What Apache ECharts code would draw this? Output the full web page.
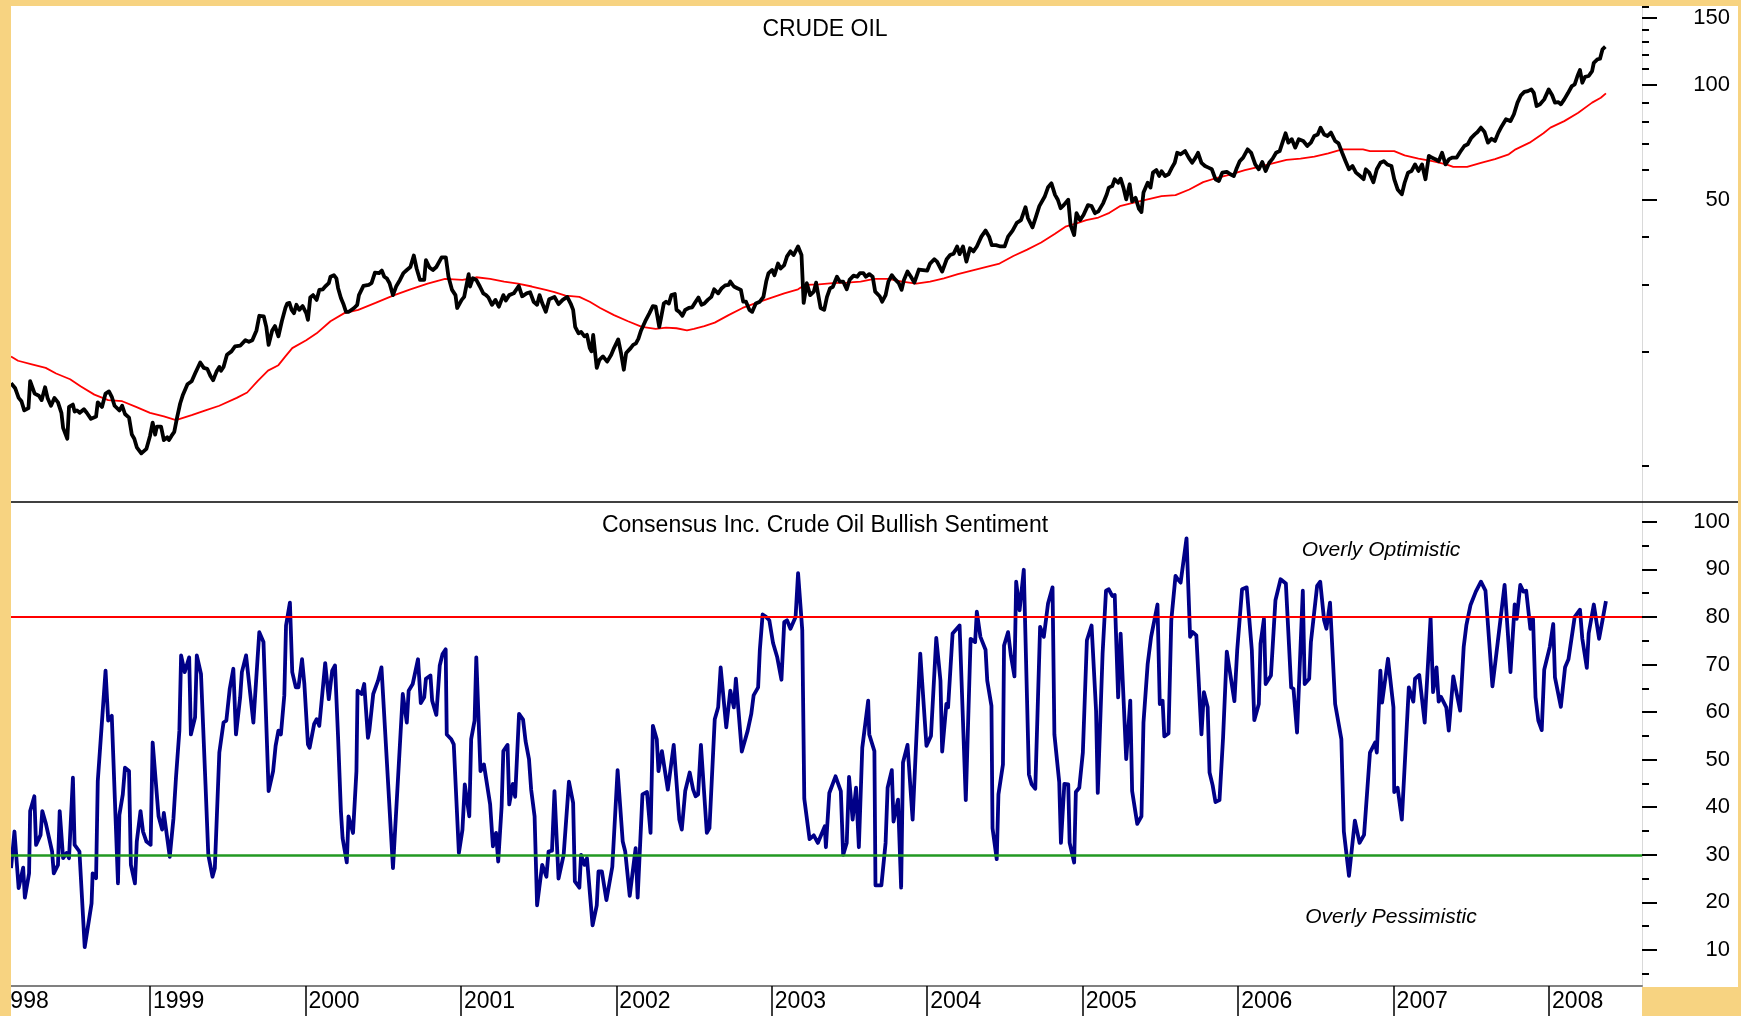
<!DOCTYPE html>
<html>
<head>
<meta charset="utf-8">
<title>Crude Oil vs Consensus Bullish Sentiment</title>
<script src="https://cdn.jsdelivr.net/npm/echarts@6/dist/echarts.min.js"></script>
<style>
  html, body { margin: 0; padding: 0; width: 1741px; height: 1016px; overflow: hidden; background: #F7D381; position: relative; }
  /* chart starts a little left of the window so that 1 Jan 1998 falls under the left border */
  #chart { position: absolute; left: -16px; top: 6px; width: 1754px; height: 1010px; background: #fff; }
  .border { position: absolute; background: #F7D381; z-index: 5; }
  #border-left { left: 0; top: 0; width: 11px; height: 1016px; }
  #border-corner { left: 1642px; top: 987px; width: 99px; height: 29px; }
</style>
</head>
<body>
<div id="chart"></div>
<div class="border" id="border-left"></div>
<div class="border" id="border-corner"></div>
<script>
// ---- data (dates as decimal years) ----
const yearTicks = [1998, 1999, 2000, 2001, 2002, 2003, 2004, 2005, 2006, 2007, 2008];
const priceMajorTicks = [50, 100, 150];
const priceMinorTicks = [10, 20, 30, 40, 60, 70, 80, 90, 110, 120, 130, 140, 160];
const sentMajorTicks = [10, 20, 30, 40, 50, 60, 70, 80, 90, 100];
const sentMinorTicks = [5, 15, 25, 35, 45, 55, 65, 75, 85, 95];
const optimisticLevel = 80;
const pessimisticLevel = 30;

// weekly crude oil price
const priceYears = [
  1998.106, 1998.133, 1998.155, 1998.173, 1998.191, 1998.218, 1998.229, 1998.258, 1998.285, 1998.303,
  1998.325, 1998.341, 1998.363, 1998.385, 1998.408, 1998.430, 1998.441, 1998.468, 1998.479, 1998.504,
  1998.515, 1998.530, 1998.548, 1998.575, 1998.593, 1998.620, 1998.653, 1998.664, 1998.691, 1998.714,
  1998.736, 1998.754, 1998.772, 1998.803, 1998.821, 1998.839, 1998.865, 1998.883, 1998.899, 1998.915,
  1998.944, 1998.977, 1999.000, 1999.017, 1999.033, 1999.044, 1999.071, 1999.089, 1999.111, 1999.122,
  1999.138, 1999.156, 1999.174, 1999.194, 1999.212, 1999.241, 1999.268, 1999.290, 1999.323, 1999.346,
  1999.368, 1999.390, 1999.406, 1999.428, 1999.446, 1999.457, 1999.473, 1999.495, 1999.524, 1999.547,
  1999.580, 1999.614, 1999.636, 1999.658, 1999.685, 1999.703, 1999.732, 1999.748, 1999.763, 1999.786,
  1999.804, 1999.826, 1999.848, 1999.871, 1999.882, 1999.897, 1999.911, 1999.926, 1999.942, 1999.960,
  1999.982, 2000.005, 2000.016, 2000.031, 2000.049, 2000.072, 2000.089, 2000.112, 2000.127, 2000.150,
  2000.161, 2000.183, 2000.199, 2000.210, 2000.228, 2000.246, 2000.261, 2000.279, 2000.313, 2000.333,
  2000.344, 2000.373, 2000.407, 2000.425, 2000.447, 2000.474, 2000.491, 2000.507, 2000.523, 2000.541,
  2000.563, 2000.585, 2000.608, 2000.630, 2000.652, 2000.675, 2000.697, 2000.715, 2000.737, 2000.764,
  2000.775, 2000.798, 2000.820, 2000.842, 2000.876, 2000.903, 2000.920, 2000.943, 2000.965, 2000.976,
  2001.005, 2001.021, 2001.050, 2001.059, 2001.077, 2001.099, 2001.122, 2001.144, 2001.162, 2001.177,
  2001.200, 2001.222, 2001.244, 2001.273, 2001.289, 2001.311, 2001.340, 2001.372, 2001.394, 2001.423,
  2001.445, 2001.468, 2001.490, 2001.506, 2001.524, 2001.546, 2001.568, 2001.602, 2001.628, 2001.655,
  2001.684, 2001.706, 2001.722, 2001.735, 2001.757, 2001.773, 2001.795, 2001.811, 2001.829, 2001.840,
  2001.851, 2001.874, 2001.891, 2001.914, 2001.941, 2001.967, 2001.985, 2002.012, 2002.030, 2002.048,
  2002.063, 2002.092, 2002.108, 2002.126, 2002.142, 2002.159, 2002.186, 2002.213, 2002.235, 2002.253,
  2002.276, 2002.287, 2002.305, 2002.320, 2002.338, 2002.354, 2002.376, 2002.387, 2002.405, 2002.425,
  2002.443, 2002.466, 2002.488, 2002.510, 2002.528, 2002.548, 2002.566, 2002.588, 2002.611, 2002.629,
  2002.655, 2002.678, 2002.700, 2002.722, 2002.733, 2002.756, 2002.778, 2002.801, 2002.816, 2002.834,
  2002.856, 2002.874, 2002.897, 2002.923, 2002.946, 2002.964, 2002.979, 2003.002, 2003.017, 2003.040,
  2003.057, 2003.080, 2003.098, 2003.120, 2003.140, 2003.169, 2003.191, 2003.205, 2003.225, 2003.247,
  2003.270, 2003.285, 2003.314, 2003.337, 2003.355, 2003.375, 2003.392, 2003.419, 2003.437, 2003.459,
  2003.482, 2003.500, 2003.526, 2003.549, 2003.567, 2003.589, 2003.605, 2003.627, 2003.649, 2003.665,
  2003.694, 2003.710, 2003.732, 2003.750, 2003.772, 2003.790, 2003.817, 2003.835, 2003.850, 2003.873,
  2003.895, 2003.917, 2003.946, 2003.973, 2004.000, 2004.018, 2004.045, 2004.063, 2004.096, 2004.125,
  2004.147, 2004.170, 2004.192, 2004.208, 2004.230, 2004.252, 2004.275, 2004.297, 2004.319, 2004.348,
  2004.375, 2004.398, 2004.415, 2004.442, 2004.471, 2004.498, 2004.520, 2004.549, 2004.576, 2004.603,
  2004.632, 2004.648, 2004.677, 2004.699, 2004.721, 2004.755, 2004.777, 2004.799, 2004.822, 2004.840,
  2004.858, 2004.878, 2004.907, 2004.922, 2004.945, 2004.960, 2004.983, 2005.005, 2005.034, 2005.057,
  2005.079, 2005.101, 2005.132, 2005.155, 2005.168, 2005.190, 2005.206, 2005.228, 2005.244, 2005.262,
  2005.280, 2005.302, 2005.318, 2005.340, 2005.362, 2005.378, 2005.391, 2005.418, 2005.436, 2005.452,
  2005.474, 2005.492, 2005.507, 2005.530, 2005.552, 2005.574, 2005.592, 2005.608, 2005.630, 2005.659,
  2005.682, 2005.704, 2005.726, 2005.742, 2005.764, 2005.787, 2005.809, 2005.831, 2005.854, 2005.876,
  2005.898, 2005.927, 2005.950, 2005.972, 2005.988, 2006.010, 2006.032, 2006.061, 2006.084, 2006.110,
  2006.133, 2006.155, 2006.177, 2006.200, 2006.222, 2006.244, 2006.267, 2006.285, 2006.305, 2006.323,
  2006.345, 2006.367, 2006.390, 2006.419, 2006.445, 2006.468, 2006.490, 2006.512, 2006.530, 2006.553,
  2006.575, 2006.597, 2006.624, 2006.646, 2006.669, 2006.691, 2006.713, 2006.736, 2006.758, 2006.785,
  2006.807, 2006.821, 2006.843, 2006.870, 2006.892, 2006.915, 2006.937, 2006.959, 2006.986, 2007.004,
  2007.026, 2007.053, 2007.071, 2007.093, 2007.116, 2007.138, 2007.160, 2007.183, 2007.205, 2007.227,
  2007.245, 2007.268, 2007.290, 2007.312, 2007.334, 2007.357, 2007.379, 2007.406, 2007.428, 2007.455,
  2007.477, 2007.500, 2007.522, 2007.540, 2007.562, 2007.585, 2007.607, 2007.630, 2007.652, 2007.674,
  2007.696, 2007.723, 2007.752, 2007.774, 2007.797, 2007.819, 2007.841, 2007.864, 2007.886, 2007.902,
  2007.920, 2007.942, 2007.969, 2007.998, 2008.020, 2008.038, 2008.060, 2008.076, 2008.098, 2008.121,
  2008.147, 2008.165, 2008.183, 2008.199, 2008.214, 2008.232, 2008.255, 2008.277, 2008.288, 2008.311,
  2008.328, 2008.344, 2008.362
];
const priceValues = [
  16.5, 16.0, 15.1, 14.8, 14.0, 14.2, 16.7, 15.5, 15.3, 14.9,
  16.1, 15.1, 14.4, 15.1, 14.7, 13.8, 12.6, 11.8, 14.3, 14.5,
  13.9, 14.0, 13.8, 14.1, 13.8, 13.3, 13.5, 14.7, 14.3, 15.5,
  15.7, 15.2, 14.4, 14.0, 14.4, 13.7, 13.4, 12.1, 11.8, 11.2,
  10.8, 11.1, 12.0, 13.0, 12.1, 12.7, 12.7, 11.7, 11.9, 11.7,
  12.0, 12.3, 13.4, 14.6, 15.4, 16.4, 16.7, 17.5, 18.7, 18.1,
  18.0, 17.2, 16.8, 17.7, 18.2, 17.8, 18.2, 19.6, 20.0, 20.6,
  20.7, 21.4, 21.2, 21.4, 22.7, 24.8, 24.7, 23.2, 20.8, 22.7,
  23.3, 21.9, 24.0, 26.0, 26.7, 26.8, 25.7, 25.2, 26.5, 25.7,
  26.3, 25.2, 24.2, 27.7, 28.1, 27.3, 29.0, 29.1, 29.6, 30.2,
  31.4, 31.7, 31.1, 29.3, 27.6, 26.5, 25.4, 25.4, 26.0, 26.5,
  28.1, 29.7, 29.9, 30.2, 32.2, 32.1, 32.6, 31.4, 31.1, 30.2,
  28.1, 29.7, 30.8, 32.1, 32.7, 33.3, 35.7, 33.0, 30.8, 30.8,
  34.7, 33.2, 32.7, 33.3, 35.3, 35.3, 31.4, 29.0, 28.1, 26.0,
  27.3, 27.8, 31.9, 29.6, 31.1, 30.8, 29.6, 28.4, 28.1, 27.7,
  26.5, 27.3, 26.2, 28.1, 27.2, 28.1, 28.4, 29.7, 27.9, 28.4,
  28.6, 27.0, 26.5, 28.1, 26.7, 25.4, 27.4, 27.8, 26.6, 27.3,
  27.8, 26.7, 25.7, 23.2, 22.3, 22.5, 21.9, 22.1, 20.4, 20.0,
  22.1, 18.1, 19.0, 19.4, 18.8, 19.6, 20.4, 21.5, 19.8, 17.9,
  19.8, 20.4, 20.8, 21.0, 21.6, 22.7, 24.0, 25.2, 26.3, 26.2,
  23.2, 24.4, 26.7, 27.0, 26.7, 28.1, 28.3, 25.7, 25.4, 24.8,
  25.7, 26.0, 26.1, 27.0, 27.7, 26.5, 26.7, 27.3, 27.8, 29.1,
  28.4, 29.3, 29.8, 29.9, 30.5, 29.6, 29.3, 29.0, 27.0, 27.0,
  25.7, 25.4, 26.7, 27.0, 27.8, 30.5, 32.1, 32.7, 31.7, 34.0,
  33.0, 33.7, 35.5, 36.6, 35.8, 37.7, 35.8, 26.8, 30.2, 28.1,
  28.7, 30.3, 26.0, 25.7, 27.8, 29.3, 29.5, 31.4, 30.5, 30.5,
  29.1, 30.8, 31.6, 31.4, 32.1, 32.1, 31.4, 31.9, 31.4, 28.7,
  27.9, 27.0, 28.1, 30.5, 31.7, 31.0, 30.2, 29.0, 30.8, 32.4,
  31.4, 30.3, 32.8, 32.7, 32.6, 34.0, 34.9, 34.4, 32.4, 34.9,
  35.8, 36.1, 37.7, 36.0, 37.7, 34.4, 37.3, 36.6, 37.7, 40.0,
  41.5, 40.0, 38.0, 38.0, 37.7, 37.7, 40.0, 41.5, 43.5, 44.2,
  47.8, 44.7, 42.3, 45.1, 48.1, 50.9, 53.9, 55.2, 51.5, 50.0,
  47.5, 48.4, 50.0, 42.9, 40.4, 46.1, 44.2, 45.6, 48.4, 48.1,
  46.1, 46.6, 49.0, 51.7, 53.8, 54.3, 56.6, 55.4, 56.8, 53.8,
  50.1, 54.9, 49.5, 50.6, 47.3, 46.4, 52.2, 55.4, 53.8, 58.9,
  59.8, 57.7, 59.4, 57.7, 58.3, 60.7, 62.5, 66.4, 65.8, 67.1,
  64.5, 62.5, 64.5, 66.4, 62.5, 61.3, 60.7, 60.1, 56.6, 56.0,
  58.9, 59.2, 58.3, 57.7, 60.1, 63.1, 64.5, 67.8, 66.4, 61.9,
  60.1, 62.8, 59.5, 62.5, 64.1, 66.4, 67.1, 70.6, 74.7, 70.6,
  72.1, 68.5, 72.1, 71.3, 69.2, 70.6, 73.5, 74.2, 77.3, 74.2,
  73.5, 75.0, 71.3, 70.3, 66.4, 63.1, 60.1, 61.3, 58.9, 57.7,
  56.6, 60.1, 58.9, 55.6, 60.1, 62.5, 63.1, 61.9, 61.3, 56.6,
  53.2, 51.7, 55.4, 58.9, 59.5, 61.9, 59.5, 61.9, 56.6, 65.2,
  64.5, 63.9, 63.1, 66.4, 61.9, 63.9, 64.5, 64.5, 66.7, 69.2,
  69.9, 72.7, 74.2, 75.3, 77.3, 75.3, 70.6, 72.3, 71.3, 75.0,
  78.0, 81.3, 80.4, 83.8, 89.9, 94.0, 95.9, 96.4, 97.4, 95.4,
  88.1, 89.0, 91.7, 97.4, 94.0, 89.9, 90.2, 89.0, 91.7, 95.1,
  99.4, 100.4, 105.6, 109.5, 101.4, 105.1, 105.6, 108.8, 114.4, 116.8,
  117.2, 124.1, 126.1
];

// moving average of the price (red)
const maYears = [
  1998.106, 1998.151, 1998.240, 1998.329, 1998.396, 1998.486, 1998.553, 1998.642, 1998.731, 1998.821,
  1998.910, 1999.000, 1999.089, 1999.167, 1999.268, 1999.357, 1999.446, 1999.558, 1999.625, 1999.692,
  1999.759, 1999.826, 1999.871, 1999.915, 2000.005, 2000.072, 2000.161, 2000.250, 2000.340, 2000.451,
  2000.563, 2000.675, 2000.786, 2000.898, 2001.010, 2001.099, 2001.188, 2001.278, 2001.367, 2001.456,
  2001.546, 2001.602, 2001.673, 2001.762, 2001.829, 2001.896, 2001.985, 2002.075, 2002.164, 2002.253,
  2002.320, 2002.387, 2002.454, 2002.499, 2002.566, 2002.633, 2002.722, 2002.812, 2002.901, 2002.990,
  2003.080, 2003.169, 2003.214, 2003.303, 2003.392, 2003.482, 2003.571, 2003.660, 2003.750, 2003.839,
  2003.929, 2004.018, 2004.107, 2004.197, 2004.286, 2004.375, 2004.465, 2004.554, 2004.643, 2004.733,
  2004.822, 2004.889, 2004.956, 2005.023, 2005.101, 2005.172, 2005.239, 2005.329, 2005.418, 2005.507,
  2005.597, 2005.686, 2005.775, 2005.865, 2005.954, 2006.043, 2006.133, 2006.222, 2006.311, 2006.401,
  2006.490, 2006.580, 2006.669, 2006.803, 2006.848, 2007.004, 2007.071, 2007.160, 2007.250, 2007.339,
  2007.384, 2007.473, 2007.562, 2007.652, 2007.741, 2007.785, 2007.875, 2007.964, 2008.009, 2008.098,
  2008.188, 2008.277, 2008.333, 2008.366
];
const maValues = [
  19.4, 18.9, 18.5, 18.1, 17.5, 16.9, 16.2, 15.4, 14.9, 14.8,
  14.3, 13.8, 13.5, 13.2, 13.6, 14.0, 14.4, 15.1, 15.6, 16.7,
  17.8, 18.4, 19.4, 20.4, 21.4, 22.3, 24.0, 25.2, 25.7, 26.8,
  28.0, 29.1, 30.1, 31.0, 30.8, 31.3, 31.0, 30.5, 30.1, 29.6,
  29.0, 28.6, 28.0, 27.8, 27.0, 26.0, 24.9, 24.0, 23.2, 22.9,
  23.1, 23.0, 22.7, 22.9, 23.3, 23.8, 24.9, 26.0, 26.8, 27.6,
  28.4, 29.1, 29.9, 30.0, 30.2, 30.3, 30.5, 31.0, 31.0, 30.5,
  30.1, 30.5, 31.1, 31.9, 32.6, 33.3, 34.0, 35.6, 37.0, 38.6,
  40.7, 42.5, 43.3, 44.2, 44.9, 46.2, 48.1, 49.1, 50.1, 51.1,
  51.4, 53.2, 55.6, 57.1, 58.3, 59.8, 61.0, 62.3, 63.6, 64.1,
  64.9, 66.2, 67.8, 67.8, 67.1, 67.1, 65.4, 64.1, 63.1, 61.9,
  61.0, 61.0, 62.5, 63.9, 65.8, 67.8, 70.6, 74.7, 77.3, 80.4,
  84.6, 89.9, 92.6, 95.1
];

// Consensus Inc. bullish sentiment (%)
const sentYears = [
  1998.106, 1998.128, 1998.155, 1998.184, 1998.195, 1998.222, 1998.229, 1998.256, 1998.267, 1998.296,
  1998.307, 1998.329, 1998.370, 1998.381, 1998.408, 1998.419, 1998.441, 1998.463, 1998.479, 1998.504,
  1998.515, 1998.546, 1998.580, 1998.624, 1998.631, 1998.653, 1998.664, 1998.714, 1998.731, 1998.754,
  1998.794, 1998.803, 1998.825, 1998.839, 1998.865, 1998.877, 1998.903, 1998.915, 1998.939, 1998.955,
  1998.977, 1999.004, 1999.017, 1999.055, 1999.078, 1999.089, 1999.127, 1999.151, 1999.167, 1999.189,
  1999.200, 1999.223, 1999.252, 1999.263, 1999.290, 1999.301, 1999.328, 1999.357, 1999.375, 1999.402,
  1999.417, 1999.446, 1999.473, 1999.491, 1999.513, 1999.536, 1999.553, 1999.580, 1999.591, 1999.618,
  1999.665, 1999.703, 1999.730, 1999.763, 1999.792, 1999.808, 1999.826, 1999.842, 1999.864, 1999.875,
  1999.900, 1999.915, 1999.938, 1999.955, 1999.978, 1999.993, 2000.016, 2000.027, 2000.056, 2000.072,
  2000.089, 2000.127, 2000.150, 2000.172, 2000.190, 2000.210, 2000.228, 2000.239, 2000.266, 2000.277,
  2000.306, 2000.328, 2000.335, 2000.362, 2000.378, 2000.402, 2000.411, 2000.436, 2000.467, 2000.489,
  2000.563, 2000.626, 2000.652, 2000.664, 2000.690, 2000.724, 2000.742, 2000.764, 2000.775, 2000.804,
  2000.815, 2000.842, 2000.864, 2000.882, 2000.902, 2000.909, 2000.938, 2000.954, 2000.987, 2001.010,
  2001.025, 2001.054, 2001.066, 2001.088, 2001.099, 2001.126, 2001.148, 2001.188, 2001.206, 2001.226,
  2001.240, 2001.262, 2001.273, 2001.300, 2001.311, 2001.334, 2001.349, 2001.374, 2001.400, 2001.416,
  2001.438, 2001.452, 2001.474, 2001.490, 2001.523, 2001.550, 2001.564, 2001.586, 2001.602, 2001.628,
  2001.639, 2001.661, 2001.695, 2001.722, 2001.733, 2001.762, 2001.773, 2001.795, 2001.811, 2001.847,
  2001.874, 2001.885, 2001.907, 2001.936, 2001.974, 2002.008, 2002.041, 2002.057, 2002.086, 2002.124,
  2002.137, 2002.168, 2002.197, 2002.220, 2002.235, 2002.260, 2002.271, 2002.293, 2002.331, 2002.369,
  2002.405, 2002.421, 2002.443, 2002.472, 2002.494, 2002.510, 2002.526, 2002.544, 2002.582, 2002.599,
  2002.633, 2002.655, 2002.671, 2002.707, 2002.733, 2002.756, 2002.769, 2002.807, 2002.845, 2002.868,
  2002.883, 2002.912, 2002.923, 2002.941, 2002.963, 2002.984, 2003.008, 2003.035, 2003.062, 2003.080,
  2003.098, 2003.120, 2003.153, 2003.169, 2003.196, 2003.209, 2003.243, 2003.270, 2003.296, 2003.341,
  2003.348, 2003.370, 2003.381, 2003.410, 2003.444, 2003.459, 2003.482, 2003.497, 2003.520, 2003.542,
  2003.560, 2003.582, 2003.620, 2003.627, 2003.660, 2003.667, 2003.705, 2003.732, 2003.745, 2003.772,
  2003.783, 2003.812, 2003.832, 2003.844, 2003.873, 2003.906, 2003.955, 2003.995, 2004.024, 2004.058,
  2004.085, 2004.096, 2004.123, 2004.134, 2004.163, 2004.208, 2004.248, 2004.279, 2004.308, 2004.319,
  2004.342, 2004.375, 2004.386, 2004.413, 2004.420, 2004.447, 2004.458, 2004.487, 2004.494, 2004.520,
  2004.538, 2004.561, 2004.572, 2004.594, 2004.621, 2004.654, 2004.672, 2004.695, 2004.726, 2004.750,
  2004.777, 2004.806, 2004.818, 2004.849, 2004.860, 2004.882, 2004.907, 2004.916, 2004.945, 2004.956,
  2004.978, 2005.001, 2005.027, 2005.057, 2005.086, 2005.097, 2005.128, 2005.150, 2005.168, 2005.190,
  2005.206, 2005.228, 2005.244, 2005.280, 2005.306, 2005.318, 2005.351, 2005.378, 2005.391, 2005.418,
  2005.440, 2005.452, 2005.481, 2005.496, 2005.514, 2005.525, 2005.552, 2005.570, 2005.597, 2005.612,
  2005.630, 2005.668, 2005.691, 2005.708, 2005.731, 2005.764, 2005.780, 2005.804, 2005.816, 2005.836,
  2005.854, 2005.880, 2005.903, 2005.927, 2005.976, 2005.994, 2006.025, 2006.055, 2006.088, 2006.104,
  2006.133, 2006.144, 2006.166, 2006.177, 2006.211, 2006.240, 2006.273, 2006.307, 2006.341, 2006.356,
  2006.379, 2006.416, 2006.428, 2006.457, 2006.468, 2006.508, 2006.528, 2006.553, 2006.568, 2006.591,
  2006.624, 2006.664, 2006.680, 2006.713, 2006.751, 2006.781, 2006.810, 2006.848, 2006.881, 2006.892,
  2006.915, 2006.926, 2006.964, 2006.999, 2007.004, 2007.026, 2007.053, 2007.098, 2007.127, 2007.138,
  2007.165, 2007.200, 2007.238, 2007.254, 2007.276, 2007.290, 2007.305, 2007.339, 2007.355, 2007.384,
  2007.428, 2007.451, 2007.468, 2007.495, 2007.529, 2007.540, 2007.562, 2007.591, 2007.636, 2007.669,
  2007.714, 2007.752, 2007.779, 2007.792, 2007.815, 2007.835, 2007.853, 2007.880, 2007.897, 2007.913,
  2007.931, 2007.953, 2007.969, 2008.005, 2008.027, 2008.038, 2008.076, 2008.103, 2008.125, 2008.165,
  2008.199, 2008.214, 2008.243, 2008.255, 2008.288, 2008.322, 2008.344, 2008.366
];
const sentValues = [
  27.2, 34.9, 23.0, 27.3, 21.0, 26.1, 39.2, 42.3, 32.1, 34.2,
  39.2, 36.7, 30.7, 26.1, 27.9, 39.2, 29.3, 30.4, 29.3, 46.2,
  32.1, 30.7, 10.6, 19.8, 26.1, 25.1, 45.5, 68.7, 58.2, 59.2,
  24.0, 38.4, 42.7, 48.3, 47.6, 27.9, 24.0, 32.8, 39.2, 34.9,
  32.8, 32.1, 53.6, 38.1, 35.3, 38.8, 29.6, 37.7, 46.2, 56.1,
  71.9, 68.4, 71.5, 55.3, 58.9, 71.9, 68.0, 44.8, 30.0, 25.4,
  27.2, 51.5, 57.8, 58.2, 64.9, 69.1, 55.3, 63.1, 68.4, 71.9,
  57.8, 76.8, 74.7, 43.4, 47.6, 52.9, 56.1, 55.3, 63.5, 78.2,
  83.0, 68.4, 65.2, 65.2, 71.1, 65.9, 53.2, 52.5, 57.5, 58.5,
  57.1, 70.3, 62.7, 68.7, 69.8, 54.6, 39.2, 33.5, 28.4, 38.1,
  34.6, 47.6, 64.5, 63.8, 65.9, 54.6, 56.1, 63.8, 66.6, 69.4,
  27.2, 63.8, 57.8, 64.5, 65.9, 71.1, 61.9, 63.1, 67.0, 67.7,
  62.4, 59.4, 69.8, 72.2, 73.2, 55.3, 54.3, 53.2, 30.4, 35.3,
  44.8, 38.1, 54.3, 58.2, 71.5, 47.6, 49.0, 40.6, 31.8, 34.6,
  28.6, 40.2, 51.8, 53.1, 40.6, 44.9, 42.2, 59.6, 58.4, 53.9,
  50.1, 43.7, 38.1, 19.4, 27.9, 25.4, 30.7, 30.9, 43.4, 25.0,
  25.0, 30.0, 45.4, 40.9, 24.4, 23.1, 30.0, 27.9, 29.3, 15.2,
  19.4, 26.5, 26.5, 20.5, 27.5, 47.8, 32.8, 30.7, 21.4, 31.4,
  21.0, 42.7, 43.2, 34.6, 57.1, 54.3, 47.6, 51.8, 43.7, 53.1,
  37.4, 35.3, 43.4, 47.3, 43.7, 42.3, 42.7, 53.1, 34.6, 35.6,
  58.5, 61.0, 69.4, 56.8, 64.5, 61.0, 67.0, 51.7, 56.1, 59.6,
  63.5, 65.2, 73.0, 80.5, 80.0, 79.3, 74.5, 71.5, 66.8, 78.9,
  79.3, 77.5, 80.0, 89.2, 77.2, 41.8, 33.3, 34.1, 32.5, 36.0,
  31.6, 43.0, 43.2, 46.5, 43.4, 30.0, 32.5, 46.4, 37.4, 44.1,
  31.6, 52.5, 62.4, 55.3, 51.8, 23.6, 23.6, 32.5, 44.1, 47.8,
  37.0, 41.6, 23.1, 49.4, 53.1, 37.4, 72.3, 52.9, 55.0, 75.6,
  66.6, 51.7, 61.7, 61.0, 76.5, 78.2, 41.5, 75.4, 74.7, 81.1,
  75.8, 73.1, 66.6, 61.3, 35.6, 29.1, 42.7, 49.0, 74.0, 76.8,
  71.9, 67.5, 87.4, 81.4, 89.9, 46.9, 44.8, 43.9, 77.9, 75.8,
  82.8, 86.2, 55.3, 45.3, 32.5, 44.9, 44.8, 32.5, 28.4, 43.2,
  44.1, 51.5, 75.1, 78.2, 60.3, 43.0, 72.3, 85.5, 85.8, 84.4,
  84.6, 63.1, 76.5, 50.1, 62.4, 43.4, 36.5, 38.1, 57.8, 70.1,
  75.8, 76.0, 82.6, 61.7, 62.4, 54.9, 55.5, 79.3, 88.6, 87.9,
  87.2, 96.5, 75.8, 76.8, 76.1, 55.3, 64.2, 61.0, 47.3, 44.6,
  41.1, 41.5, 54.6, 72.7, 62.3, 73.0, 85.8, 86.2, 73.0, 58.3,
  61.7, 74.4, 79.6, 65.9, 67.7, 83.5, 87.9, 87.0, 65.2, 64.9,
  55.7, 85.5, 65.9, 67.0, 74.7, 86.5, 87.4, 79.3, 77.5, 83.0,
  61.7, 54.3, 34.9, 25.6, 37.2, 32.5, 34.2, 51.5, 53.6, 51.5,
  68.7, 62.0, 71.2, 61.0, 43.2, 44.1, 37.4, 65.2, 62.2, 67.0,
  67.8, 57.8, 79.8, 64.2, 69.4, 62.2, 63.2, 61.0, 56.1, 67.5,
  60.3, 73.7, 78.2, 82.5, 85.3, 85.3, 87.4, 85.5, 65.4, 74.4,
  86.7, 68.4, 82.6, 79.6, 86.7, 85.3, 85.5, 77.5, 79.6, 63.1,
  58.2, 56.2, 68.9, 73.7, 78.5, 67.3, 61.1, 69.4, 71.1, 80.0,
  81.5, 75.4, 69.3, 76.5, 82.6, 75.4, 79.3, 83.3
];

// ---- layout ----
const FONT = '"Liberation Sans", Arial, Helvetica, sans-serif';
const X_MIN = 1998;
const X_MAX = 2008.598;
const GRID_LEFT = 10.56;
const GRID_RIGHT = 96;

const pairs = (xs, ys) => xs.map((x, i) => [x, ys[i]]);

const chart = echarts.init(document.getElementById('chart'));

const tickStyle = { color: '#000', width: 2 };
const labelStyle = { fontFamily: FONT, fontSize: 22, color: '#000', align: 'right', margin: 88 };
const textStyle = (text, font) => ({
  text, font, fill: '#000',
  align: 'center', verticalAlign: 'middle', textAlign: 'center', textVerticalAlign: 'middle'
});

chart.setOption({
  animation: false,
  backgroundColor: '#fff',
  grid: [
    { left: GRID_LEFT, right: GRID_RIGHT, top: 0, height: 496 },
    { left: GRID_LEFT, right: GRID_RIGHT, top: 496, height: 484 }
  ],
  xAxis: [
    { gridIndex: 0, type: 'value', min: X_MIN, max: X_MAX, show: false },
    {
      gridIndex: 1, type: 'value', min: X_MIN, max: X_MAX,
      axisLine: { lineStyle: { color: '#808080', width: 2 } },
      axisTick: { customValues: yearTicks, length: 30, lineStyle: { color: '#000', width: 1.5 } },
      axisLabel: {
        customValues: yearTicks, align: 'left', margin: 4, padding: [0, 0, 0, 3],
        fontFamily: FONT, fontSize: 23, color: '#000',
        formatter: v => String(Math.round(v))
      },
      splitLine: { show: false }
    }
  ],
  yAxis: [
    // crude oil, log scale
    {
      gridIndex: 0, type: 'log', logBase: 10, min: 8.05, max: 161.2, position: 'right',
      axisLine: { show: true, lineStyle: { color: '#d9d9d9', width: 1 } },
      axisTick: { customValues: priceMajorTicks, length: 15, lineStyle: tickStyle },
      axisLabel: Object.assign({ customValues: priceMajorTicks }, labelStyle),
      splitLine: { show: false }
    },
    {
      gridIndex: 0, type: 'log', logBase: 10, min: 8.05, max: 161.2, position: 'right',
      axisLine: { show: false },
      axisTick: { customValues: priceMinorTicks, length: 7, lineStyle: tickStyle },
      axisLabel: { show: false },
      splitLine: { show: false }
    },
    // sentiment
    {
      gridIndex: 1, type: 'value', min: 2.44, max: 104.14, position: 'right',
      axisLine: { show: true, lineStyle: { color: '#d9d9d9', width: 1 } },
      axisTick: { customValues: sentMajorTicks, length: 15, lineStyle: tickStyle },
      axisLabel: Object.assign({ customValues: sentMajorTicks }, labelStyle),
      splitLine: { show: false }
    },
    {
      gridIndex: 1, type: 'value', min: 2.44, max: 104.14, position: 'right',
      axisLine: { show: false },
      axisTick: { customValues: sentMinorTicks, length: 7, lineStyle: tickStyle },
      axisLabel: { show: false },
      splitLine: { show: false }
    }
  ],
  series: [
    {
      name: 'Moving average', type: 'line', xAxisIndex: 0, yAxisIndex: 0,
      data: pairs(maYears, maValues), showSymbol: false, z: 2,
      lineStyle: { color: '#ff0000', width: 1.8 }
    },
    {
      name: 'Crude oil', type: 'line', xAxisIndex: 0, yAxisIndex: 0,
      data: pairs(priceYears, priceValues), showSymbol: false, z: 3,
      lineStyle: { color: '#000', width: 3.8, join: 'round' }
    },
    {
      // threshold lines, kept under the sentiment line
      name: 'Thresholds', type: 'line', xAxisIndex: 1, yAxisIndex: 2, data: [], z: 1,
      markLine: {
        symbol: 'none', silent: true, label: { show: false },
        data: [
          { yAxis: optimisticLevel, lineStyle: { color: '#ff0000', width: 2, type: 'solid' } },
          { yAxis: pessimisticLevel, lineStyle: { color: '#229922', width: 2.5, type: 'solid' } }
        ]
      }
    },
    {
      name: 'Bullish sentiment', type: 'line', xAxisIndex: 1, yAxisIndex: 2,
      data: pairs(sentYears, sentValues), showSymbol: false, z: 3,
      lineStyle: { color: '#000088', width: 3.8, join: 'round' }
    }
  ],
  graphic: [
    { type: 'line', z: 10, shape: { x1: 0, y1: 496, x2: 1754, y2: 496 }, style: { stroke: '#000', lineWidth: 1.5 } },
    { type: 'text', z: 10, x: 841, y: 24, style: textStyle('CRUDE OIL', '23px ' + FONT) },
    { type: 'text', z: 10, x: 841, y: 520, style: textStyle('Consensus Inc. Crude Oil Bullish Sentiment', '23px ' + FONT) },
    { type: 'text', z: 10, x: 1397, y: 544, style: textStyle('Overly Optimistic', 'italic 21px ' + FONT) },
    { type: 'text', z: 10, x: 1407, y: 911, style: textStyle('Overly Pessimistic', 'italic 21px ' + FONT) }
  ]
});
</script>
</body>
</html>
